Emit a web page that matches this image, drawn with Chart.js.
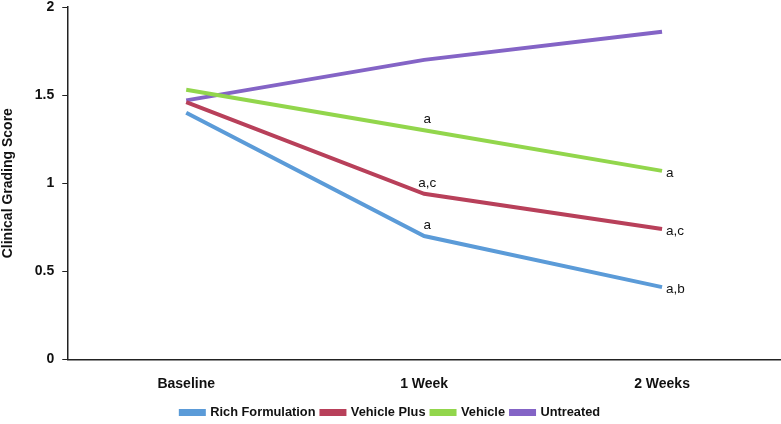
<!DOCTYPE html>
<html>
<head>
<meta charset="utf-8">
<script src="https://cdn.jsdelivr.net/npm/chart.js@4/dist/chart.umd.min.js"></script>
<style>
  body { margin: 0; background: #fff; }
  #wrap { width: 781px; height: 424px; }
</style>
</head>
<body>
<div id="wrap"><canvas id="myChart" width="781" height="424"></canvas></div>
<script>
// data
let weeks = ["Baseline", "1 Week", "2 Weeks"];
let richFormulation = [1.40, 0.70, 0.41];
let vehiclePlus = [1.46, 0.94, 0.74];
let vehicle = [1.53, 1.30, 1.07];
let untreated = [1.47, 1.70, 1.86];
let yTicks = [0, 0.5, 1, 1.5, 2];

// significance letters: [series index, point index, text, where]
let notes = [
   [2, 1, "a", "above"],
   [2, 2, "a", "right"],
   [1, 1, "a,c", "above"],
   [1, 2, "a,c", "right"],
   [0, 1, "a", "above"],
   [0, 2, "a,b", "right"],
];

let lineColors = [
   "#5b9bd8", // Rich Formulation
   "#b8405a", // Vehicle Plus
   "#92d64c", // Vehicle
   "#8464c6", // Untreated
];

let fontFamily = "'Liberation Sans', Arial, sans-serif";

// draws the little letters next to the points
let notePlugin = {
   id: "notes",
   afterDatasetsDraw(chart) {
      let ctx = chart.ctx;
      ctx.save();
      ctx.font = "13.5px " + fontFamily;
      ctx.fillStyle = "#111";
      notes.forEach((n) => {
         let pt = chart.getDatasetMeta(n[0]).data[n[1]];
         if (n[3] == "above") {
            ctx.textAlign = "center";
            ctx.textBaseline = "bottom";
            ctx.fillText(n[2], pt.x + 3, pt.y - 4);
         } else {
            ctx.textAlign = "left";
            ctx.textBaseline = "middle";
            ctx.fillText(n[2], pt.x + 4, pt.y + 2);
         }
      });
      ctx.restore();
   },
};

let names = ["Rich Formulation", "Vehicle Plus", "Vehicle", "Untreated"];
let series = [richFormulation, vehiclePlus, vehicle, untreated];

new Chart("myChart", {
   type: "line",
   data: {
      labels: weeks,
      datasets: series.map((s, i) => ({
         label: names[i],
         data: s,
         borderColor: lineColors[i],
         backgroundColor: lineColors[i],
         borderWidth: 4,
         pointRadius: 0,
         tension: 0,
      })),
   },
   plugins: [notePlugin],
   options: {
      responsive: false,
      animation: false,
      layout: { padding: { top: 7, right: 0, left: 0, bottom: -5 } },
      scales: {
         x: {
            offset: true,
            grid: { display: false },
            border: { display: true, color: "#222", width: 1.5 },
            ticks: {
               color: "#111",
               padding: 8,
               font: { family: fontFamily, size: 14, weight: "bold" },
            },
         },
         y: {
            min: 0,
            max: 2,
            afterBuildTicks: (axis) => {
               axis.ticks = yTicks.map((v) => ({ value: v }));
            },
            afterFit: (axis) => {
               axis.paddingTop = 0;
            },
            grid: { drawOnChartArea: false, drawTicks: true, tickLength: 5, color: "#222" },
            border: { display: true, color: "#222", width: 1.5 },
            ticks: {
               color: "#111",
               padding: 8,
               callback: (v) => String(v),
               font: { family: fontFamily, size: 14, weight: "bold" },
            },
            title: {
               display: true,
               text: "Clinical Grading Score",
               color: "#111",
               padding: { top: 0, bottom: 10 },
               font: { family: fontFamily, size: 14, weight: "bold" },
            },
         },
      },
      plugins: {
         title: { display: false },
         tooltip: { enabled: false },
         legend: {
            display: true,
            position: "bottom",
            labels: {
               color: "#111",
               boxWidth: 23,
               boxHeight: 3,
               padding: 6,
               font: { family: fontFamily, size: 12.8, weight: "bold" },
            },
         },
      },
   },
});
</script>
</body>
</html>
